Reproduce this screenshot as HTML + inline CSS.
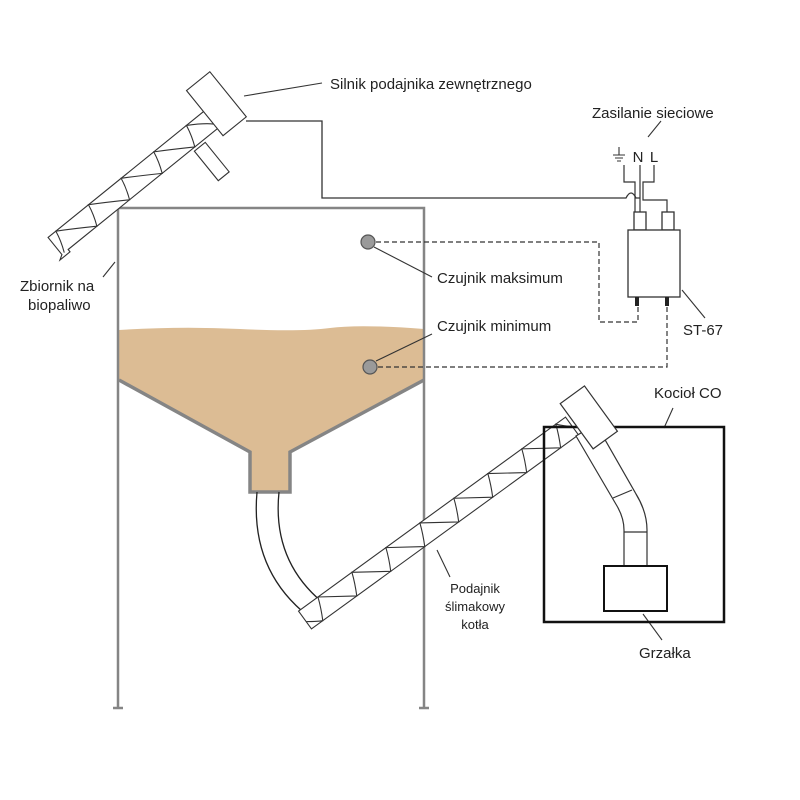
<!DOCTYPE html>
<html><head><meta charset="utf-8"><style>
html,body{margin:0;padding:0;background:#fff;}
svg{display:block;}
text{font-family:"Liberation Sans",Arial,sans-serif;fill:#222;}
</style></head><body>
<svg width="800" height="800" viewBox="0 0 800 800" xmlns="http://www.w3.org/2000/svg">
<!-- sand -->
<path d="M119,330 Q180,326 240,329 T330,328 T424,329 L424,380 L290,452 L290,492 L250,492 L250,452 L119,380 Z" fill="#dcbc94"/>
<!-- hopper outline -->
<g stroke="#858585" stroke-width="3.5" fill="none">
<path d="M119,380 L250,452 L250,492 L290,492 L290,452 L424,380"/>
</g>
<!-- tank walls -->
<g stroke="#858585" stroke-width="2.5" fill="none">
<path d="M118,708 L118,208 L424,208 L424,708"/>
<path d="M113,708 L123,708 M419,708 L429,708"/>
</g>
<!-- sensors -->
<circle cx="368" cy="242" r="7" fill="#9a9a9a" stroke="#555" stroke-width="1.2"/>
<circle cx="370" cy="367" r="7" fill="#9a9a9a" stroke="#555" stroke-width="1.2"/>
<g stroke="#333" stroke-width="1.2" fill="none" stroke-dasharray="5,3">
<path d="M376,242 L599,242 L599,322 L638,322 L638,304"/>
<path d="M378,367 L667,367 L667,304"/>
</g>
<!-- leader lines -->
<g stroke="#333" stroke-width="1.1" fill="none">
<path d="M374,247 L432,277"/>
<path d="M376,361 L432,334"/>
<path d="M244,96 L322,83"/>
<path d="M103,277 L115,262"/>
<path d="M648,137 L661,121"/>
<path d="M682,290 L705,318"/>
<path d="M664,428 L673,408"/>
<path d="M643,614 L662,640"/>
<path d="M450,577 L437,550"/>
</g>
<!-- motor wire -->
<path d="M246,121 L322,121 L322,198 L626,198 Q631,188 636,198 L640,198" stroke="#333" stroke-width="1.3" fill="none"/>
<!-- power lines -->
<g stroke="#333" stroke-width="1.2" fill="none">
<path d="M624,165 L624,182 L635,182 L635,212"/>
<path d="M640,165 L640,212"/>
<path d="M654,165 L654,182 L643,182 L643,200 L667,200 L667,212"/>
</g>
<!-- ST-67 -->
<g stroke="#333" stroke-width="1.3" fill="#fff">
<rect x="634" y="212" width="12" height="18"/>
<rect x="662" y="212" width="12" height="18"/>
<rect x="628" y="230" width="52" height="67"/>
</g>
<rect x="635" y="297" width="4" height="9" fill="#222"/>
<rect x="665" y="297" width="4" height="9" fill="#222"/>
<!-- upper auger -->
<g transform="translate(55,246) rotate(-39)" stroke="#333" stroke-width="1.1" fill="#fff">
<path d="M0,-11 L205,-11 L205,11 L8,11 L8,14 L-5,14 L0,11 Z"/>
<path d="M3,11 Q8,0 10,-11 Q25,-2 45,11 Q50,0 52,-11 Q67,-2 87,11 Q92,0 94,-11 Q109,-2 129,11 Q134,0 136,-11 Q151,-2 171,11 Q176,0 178,-11 Q193,-2 200,5" fill="none"/>
<rect x="200" y="-38" width="30" height="58"/>
<rect x="168" y="14" width="14" height="38"/>
</g>
<!-- hopper pipe to lower auger -->
<g stroke="#222" stroke-width="1.3" fill="none">
<path d="M257,492 Q250,570 308,616"/>
<path d="M279,492 Q272,560 322,602"/>
</g>
<!-- lower auger -->
<g transform="translate(305,620) rotate(-36)" stroke="#333" stroke-width="1.1" fill="#fff">
<rect x="0" y="-11" width="330" height="22"/>
<path d="M0,2 Q10,9 14,11 Q20,0 24,-11 Q40,0 56,11 Q62,0 66,-11 Q82,0 98,11 Q104,0 108,-11 Q124,0 140,11 Q146,0 150,-11 Q166,0 182,11 Q188,0 192,-11 Q208,0 224,11 Q230,0 234,-11 Q250,0 266,11 Q272,0 276,-11 Q292,0 308,11 Q314,0 318,-11 Q326,-2 330,0" fill="none"/>
</g>
<!-- boiler -->
<rect x="544" y="427" width="180" height="195" fill="none" stroke="#111" stroke-width="2.5"/>
<!-- boiler pipe -->
<g stroke="#333" stroke-width="1.2" fill="#fff">
<path d="M576,436 L617,506 Q624,518 624,530 L624,566 L647,566 L647,530 Q647,512 636,494 L596,424 Z"/>
<path d="M613,498 L632,490 M624,532 L647,532" fill="none"/>
</g>
<g transform="translate(588,418) rotate(-36)" stroke="#333" stroke-width="1.2" fill="#fff">
<rect x="-14" y="-28" width="30" height="56"/>
</g>
<rect x="604" y="566" width="63" height="45" fill="none" stroke="#111" stroke-width="2"/>
<!-- labels -->
<text x="330" y="89" font-size="15">Silnik podajnika zewnętrznego</text>
<text x="592" y="118" font-size="15">Zasilanie sieciowe</text>
<text x="638" y="162" font-size="15" text-anchor="middle">N</text>
<text x="654" y="162" font-size="15" text-anchor="middle">L</text>
<g stroke="#333" stroke-width="1.1"><path d="M619,147 L619,155 M613,155 L625,155 M615,158 L623,158 M617,161 L621,161"/></g>
<text x="20" y="291" font-size="15">Zbiornik na</text>
<text x="28" y="310" font-size="15">biopaliwo</text>
<text x="437" y="283" font-size="15">Czujnik maksimum</text>
<text x="437" y="331" font-size="15">Czujnik minimum</text>
<text x="683" y="335" font-size="15">ST-67</text>
<text x="654" y="398" font-size="15">Kocioł CO</text>
<text x="475" y="593" font-size="13" text-anchor="middle">Podajnik</text>
<text x="475" y="611" font-size="13" text-anchor="middle">ślimakowy</text>
<text x="475" y="629" font-size="13" text-anchor="middle">kotła</text>
<text x="639" y="658" font-size="15">Grzałka</text>
</svg>
</body></html>
